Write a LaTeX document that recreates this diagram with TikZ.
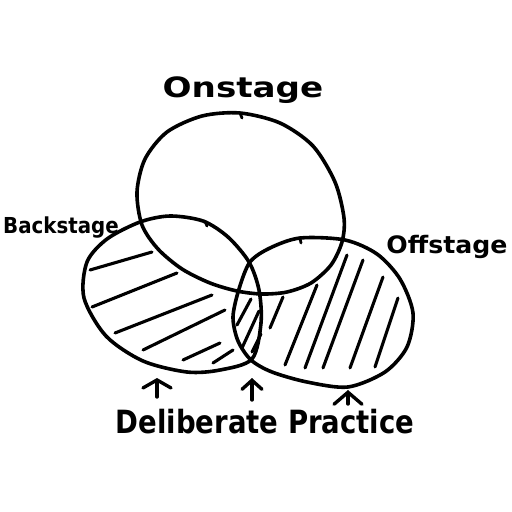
\documentclass[tikz,border=0pt]{standalone}
\usepackage{fontspec}
\setmainfont{DejaVu Sans}
\usetikzlibrary{arrows.meta}
\begin{document}
\begin{tikzpicture}[x=1pt,y=-1pt,
  outline/.style={line width=3.6pt,line cap=round,line join=round},
  hatch/.style={line width=3.1pt,line cap=round},
  nick/.style={line width=2.8pt,line cap=round},
  uparrow/.style={line width=3.4pt,line cap=round,-{Straight Barb[length=8pt,width=28pt,line cap=round]}},
  lbl/.style={inner sep=0pt,anchor=base,font=\bfseries}]
\useasboundingbox (0,0) rectangle (512,512);
\fill[white] (0,0) rectangle (512,512);
% Onstage circle
\draw[outline] plot[smooth cycle, tension=0.5] coordinates {
 (240,113) (280,123) (313,146) (335,182) (344,218) (342,242) (331,265)
 (311,283) (287,292) (262,294) (237,291) (210,283) (182,269) (158,249)
 (142,225) (137,192) (145,159) (167,132) (202,116)};
% Backstage ellipse
\draw[outline] plot[smooth cycle, tension=0.5] coordinates {
 (140,222) (170,216) (203,221) (228,237) (249,262) (259,290) (261,323)
 (252,359) (220,370) (187,372) (143,361) (106,336) (84,298) (87,262)
 (107,239)};
% Offstage ellipse
\draw[outline] plot[smooth cycle, tension=0.5] coordinates {
 (250,262) (270,248) (300,238) (345,240) (377,254) (400,279) (413,313)
 (407,347) (385,372) (348,387) (307,382) (272,372) (251,360) (238,341)
 (233,317) (239,289)};
% small nicks
\draw[nick] (240,113) -- (242,118);
\draw[nick] (205,221) -- (207,226);
\draw[nick] (300,238) -- (301,243);
% hatching Backstage
\draw[hatch] (90,270) -- (152,252);
\draw[hatch] (92,307) -- (177,273);
\draw[hatch] (115,333) -- (212,295);
\draw[hatch] (143,350) -- (225,310);
\draw[hatch] (183,360) -- (220,343);
\draw[hatch] (213,363) -- (233,350);
% hatching lens
\draw[hatch] (237,325) -- (251,299);
\draw[hatch] (242,348) -- (259,311);
\draw[hatch] (252,352) -- (261,334);
% hatching Offstage
\draw[hatch] (270,328) -- (283,297);
\draw[hatch] (285,365) -- (317,285);
\draw[hatch] (305,368) -- (347,255);
\draw[hatch] (323,368) -- (363,260);
\draw[hatch] (350,368) -- (383,277);
\draw[hatch] (375,367) -- (398,298);
% labels
\node[lbl] (on) at (243,97) {\fontsize{28}{28}\selectfont\scalebox{1.22}[1]{Onstage}};
\node[lbl] (back) at (61,233) {\fontsize{22}{22}\selectfont\scalebox{0.9}[1]{Backstage}};
\node[lbl] (off) at (447,253) {\fontsize{24}{24}\selectfont\scalebox{1.05}[1]{Offstage}};
\node[lbl] (dp) at (265,433) {\fontsize{32}{32}\selectfont\scalebox{0.86}[1]{Deliberate Practice}};
% arrows
\coordinate (s1) at (157,397); \coordinate (e1) at (157,378);
\coordinate (s2) at (252,400); \coordinate (e2) at (252,378);
\coordinate (s3) at (348,404); \coordinate (e3) at (348,390);
\draw[uparrow] (s1) -- (e1);
\draw[uparrow,-{Straight Barb[length=9pt,width=20pt,line cap=round]}] (s2) -- (e2);
\draw[uparrow,-{Straight Barb[length=12pt,width=28pt,line cap=round]}] (s3) -- (e3);
\end{tikzpicture}
\end{document}
